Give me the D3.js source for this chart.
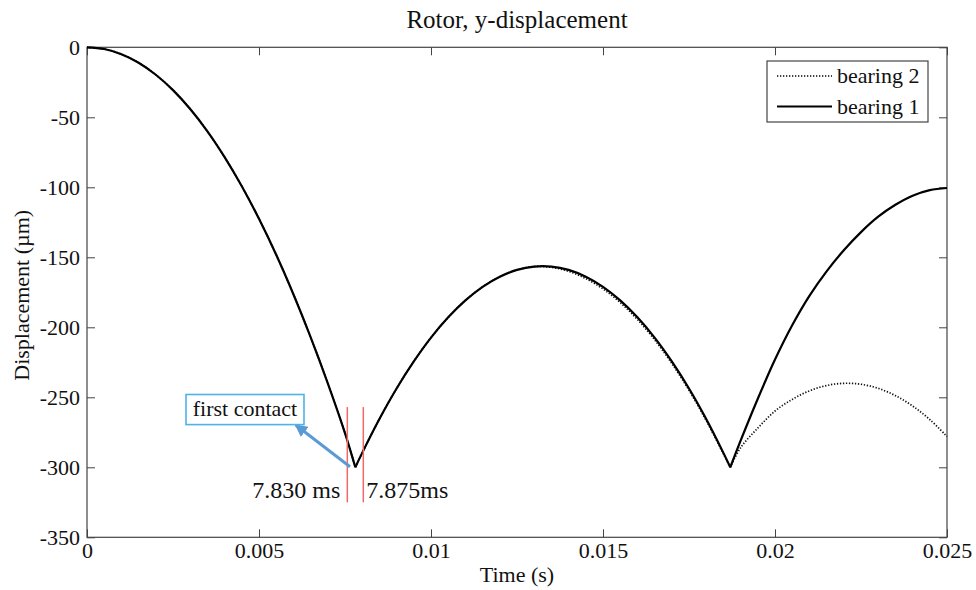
<!DOCTYPE html>
<html>
<head>
<meta charset="utf-8">
<script src="https://cdn.jsdelivr.net/npm/d3@7"></script>
<style>
  html, body { margin: 0; padding: 0; background: #fff; }
  svg { display: block; }
  text { font-family: "Liberation Serif", "Times New Roman", serif; fill: #111; }
</style>
</head>
<body>
<svg id="chart" width="976" height="590"></svg>
<script>
// ---------- data ----------
const timeS = [0,0.0005,0.001,0.0015,0.002,0.0025,0.003,0.0035,0.004,0.0045,0.005,0.0055,0.006,0.0065,0.007,0.0075,
  0.0078,0.008,0.0085,0.009,0.0095,0.01,0.0105,0.011,0.0115,0.012,0.0125,0.013,0.0135,0.014,0.0145,0.015,0.0155,0.016,0.0165,0.017,0.0175,0.018,0.0185,
  0.0187,0.019,0.0195,0.02,0.0205,0.021,0.0215,0.022,0.0225,0.023,0.0235,0.024,0.0245,0.025];
const bearing1 = [0,-1.2,-4.9,-11,-19.6,-30.6,-44.1,-60,-78.4,-99.2,-122.5,-148.2,-176.4,-207,-240,-275.6,
  -300,-289.7,-265.5,-243.7,-224.4,-207.4,-192.9,-180.8,-171.1,-163.9,-159,-156.6,-156.6,-159,-163.9,-171.1,-180.8,-192.9,-207.4,-224.4,-243.7,-265.5,-289.7,
  -300,-281,-251,-223,-198.5,-177.5,-160,-145,-132,-121,-112.5,-106,-102,-100.5];
const bearing2 = [0,-1.2,-4.9,-11,-19.6,-30.6,-44.1,-60,-78.4,-99.2,-122.5,-148.2,-176.4,-207,-240,-275.6,
  -300,-289.7,-265.5,-243.7,-224.4,-207.4,-192.9,-180.8,-171.1,-163.9,-159,-156.6,-157.2,-160,-165.2,-172.6,-182.3,-194.4,-208.9,-225.8,-245,-266.6,-290.4,
  -300,-286,-272,-259.8,-251.5,-245.4,-241.6,-240,-240.7,-243.6,-248.8,-256.2,-265.9,-278];
const contactTimes = [0.0078, 0.0187];           // impact instants (curve cusps)
const seriesNames = ["bearing 2", "bearing 1"];
const xTickValues = [0, 0.005, 0.01, 0.015, 0.02, 0.025];
const xTickLabels = ["0", "0.005", "0.01", "0.015", "0.02", "0.025"];
const yTickValues = [0, -50, -100, -150, -200, -250, -300, -350];
const yTickLabels = ["0", "-50", "-100", "-150", "-200", "-250", "-300", "-350"];
const markerTimes = [0.007567, 0.008032];        // red marker lines
const markerLabels = ["7.830 ms", "7.875ms"];
const markerRange = [-257, -325];
const calloutText = "first contact";
const calloutBox = {t0: 0.002878, t1: 0.006308, v0: -248, v1: -269.5};
const calloutArrow = {from: [0.007645, -299.6], to: [0.006067, -269.8]};

// ---------- layout ----------
const svg = d3.select("#chart");
const L = 87, R = 947, T = 47.3, B = 537.3;
const x = d3.scaleLinear().domain([0, 0.025]).range([L, R]);
const y = d3.scaleLinear().domain([-350, 0]).range([B, T]);
const axisColor = "#444";

// title
svg.append("text").attr("x", 517).attr("y", 28).attr("text-anchor", "middle")
  .style("font-size", "25px").text("Rotor, y-displacement");

// axes with inward ticks
const tk = 8;
const gx = svg.append("g").attr("transform", `translate(0,${B})`)
  .call(d3.axisBottom(x).tickValues(xTickValues).tickFormat((d, i) => xTickLabels[i]).tickSize(-tk).tickSizeOuter(0).tickPadding(5));
const gy = svg.append("g").attr("transform", `translate(${L},0)`)
  .call(d3.axisLeft(y).tickValues(yTickValues).tickFormat((d, i) => yTickLabels[i]).tickSize(-tk).tickSizeOuter(0).tickPadding(7));
const gt = svg.append("g").attr("transform", `translate(0,${T})`)
  .call(d3.axisTop(x).tickValues(xTickValues).tickFormat("").tickSize(-tk).tickSizeOuter(0));
const gr = svg.append("g").attr("transform", `translate(${R},0)`)
  .call(d3.axisRight(y).tickValues(yTickValues).tickFormat("").tickSize(-tk).tickSizeOuter(0));
[gx, gy, gt, gr].forEach(g => {
  g.select(".domain").remove();
  g.selectAll(".tick line").attr("stroke", axisColor).attr("stroke-width", 1);
  g.selectAll(".tick text").style("font-size", "22px").attr("fill", "#111")
    .style("font-family", '"Liberation Serif", "Times New Roman", serif');
});
svg.append("rect").attr("x", L).attr("y", T).attr("width", R - L).attr("height", B - T)
  .attr("fill", "none").attr("stroke", axisColor).attr("stroke-width", 1.2);

// axis labels
svg.append("text").attr("x", (L + R) / 2).attr("y", 582).attr("text-anchor", "middle")
  .style("font-size", "22px").text("Time (s)");
svg.append("text").attr("transform", `translate(29,${(T + B) / 2 + 3}) rotate(-90)`).attr("text-anchor", "middle")
  .style("font-size", "22px").text("Displacement (\u00b5m)");

// ---------- curves ----------
function segments(values) {
  const pts = timeS.map((t, i) => [t, values[i]]);
  const segs = [];
  let cur = [];
  pts.forEach(p => {
    cur.push(p);
    if (contactTimes.some(c => Math.abs(c - p[0]) < 1e-9)) { segs.push(cur); cur = [p]; }
  });
  if (cur.length > 1) segs.push(cur);
  return segs;
}
const line = d3.line().x(d => x(d[0])).y(d => y(d[1])).curve(d3.curveCatmullRom.alpha(0.5));
const plot = svg.append("g");
segments(bearing2).forEach(seg => plot.append("path").attr("d", line(seg)).attr("fill", "none")
  .attr("stroke", "#111").attr("stroke-width", 1.7).attr("stroke-dasharray", "1.3 1.7"));
segments(bearing1).forEach(seg => plot.append("path").attr("d", line(seg)).attr("fill", "none")
  .attr("stroke", "#000").attr("stroke-width", 2.2).attr("stroke-linejoin", "round"));

// ---------- annotations ----------
markerTimes.forEach(t => svg.append("line").attr("x1", x(t)).attr("x2", x(t))
  .attr("y1", y(markerRange[0])).attr("y2", y(markerRange[1]))
  .attr("stroke", "#f06868").attr("stroke-width", 1.5));
svg.append("text").attr("x", x(markerTimes[0]) - 7).attr("y", 498).attr("text-anchor", "end")
  .style("font-size", "24px").text(markerLabels[0]);
svg.append("text").attr("x", x(markerTimes[1]) + 3).attr("y", 498).attr("text-anchor", "start")
  .style("font-size", "24px").text(markerLabels[1]);

svg.append("defs").append("marker").attr("id", "ah").attr("viewBox", "0 0 10 10")
  .attr("refX", 9).attr("refY", 5).attr("markerWidth", 4.2).attr("markerHeight", 4.2)
  .attr("orient", "auto").attr("markerUnits", "strokeWidth")
  .append("path").attr("d", "M0,0 L10,5 L0,10 z").attr("fill", "#5b9bd5");
svg.append("line")
  .attr("x1", x(calloutArrow.from[0])).attr("y1", y(calloutArrow.from[1]))
  .attr("x2", x(calloutArrow.to[0])).attr("y2", y(calloutArrow.to[1]))
  .attr("stroke", "#5b9bd5").attr("stroke-width", 3).attr("marker-end", "url(#ah)");
svg.append("rect").attr("x", x(calloutBox.t0)).attr("y", y(calloutBox.v0))
  .attr("width", x(calloutBox.t1) - x(calloutBox.t0)).attr("height", y(calloutBox.v1) - y(calloutBox.v0))
  .attr("fill", "#fff").attr("stroke", "#4db3e8").attr("stroke-width", 1.6);
svg.append("text").attr("x", (x(calloutBox.t0) + x(calloutBox.t1)) / 2).attr("y", y(calloutBox.v0) + 21)
  .attr("text-anchor", "middle").style("font-size", "22px").text(calloutText);

// ---------- legend ----------
const lg = svg.append("g");
lg.append("rect").attr("x", 767).attr("y", 61).attr("width", 161).attr("height", 61)
  .attr("fill", "#fff").attr("stroke", axisColor).attr("stroke-width", 1.2);
seriesNames.forEach((name, i) => {
  const cy = 76 + i * 30.5;
  lg.append("line").attr("x1", 777).attr("x2", 832).attr("y1", cy).attr("y2", cy)
    .attr("stroke", "#000").attr("stroke-width", i === 0 ? 1.7 : 2.2)
    .attr("stroke-dasharray", i === 0 ? "1.3 1.7" : null);
  lg.append("text").attr("x", 837).attr("y", cy).attr("dy", "0.32em")
    .style("font-size", "22px").text(name);
});
</script>
</body>
</html>
